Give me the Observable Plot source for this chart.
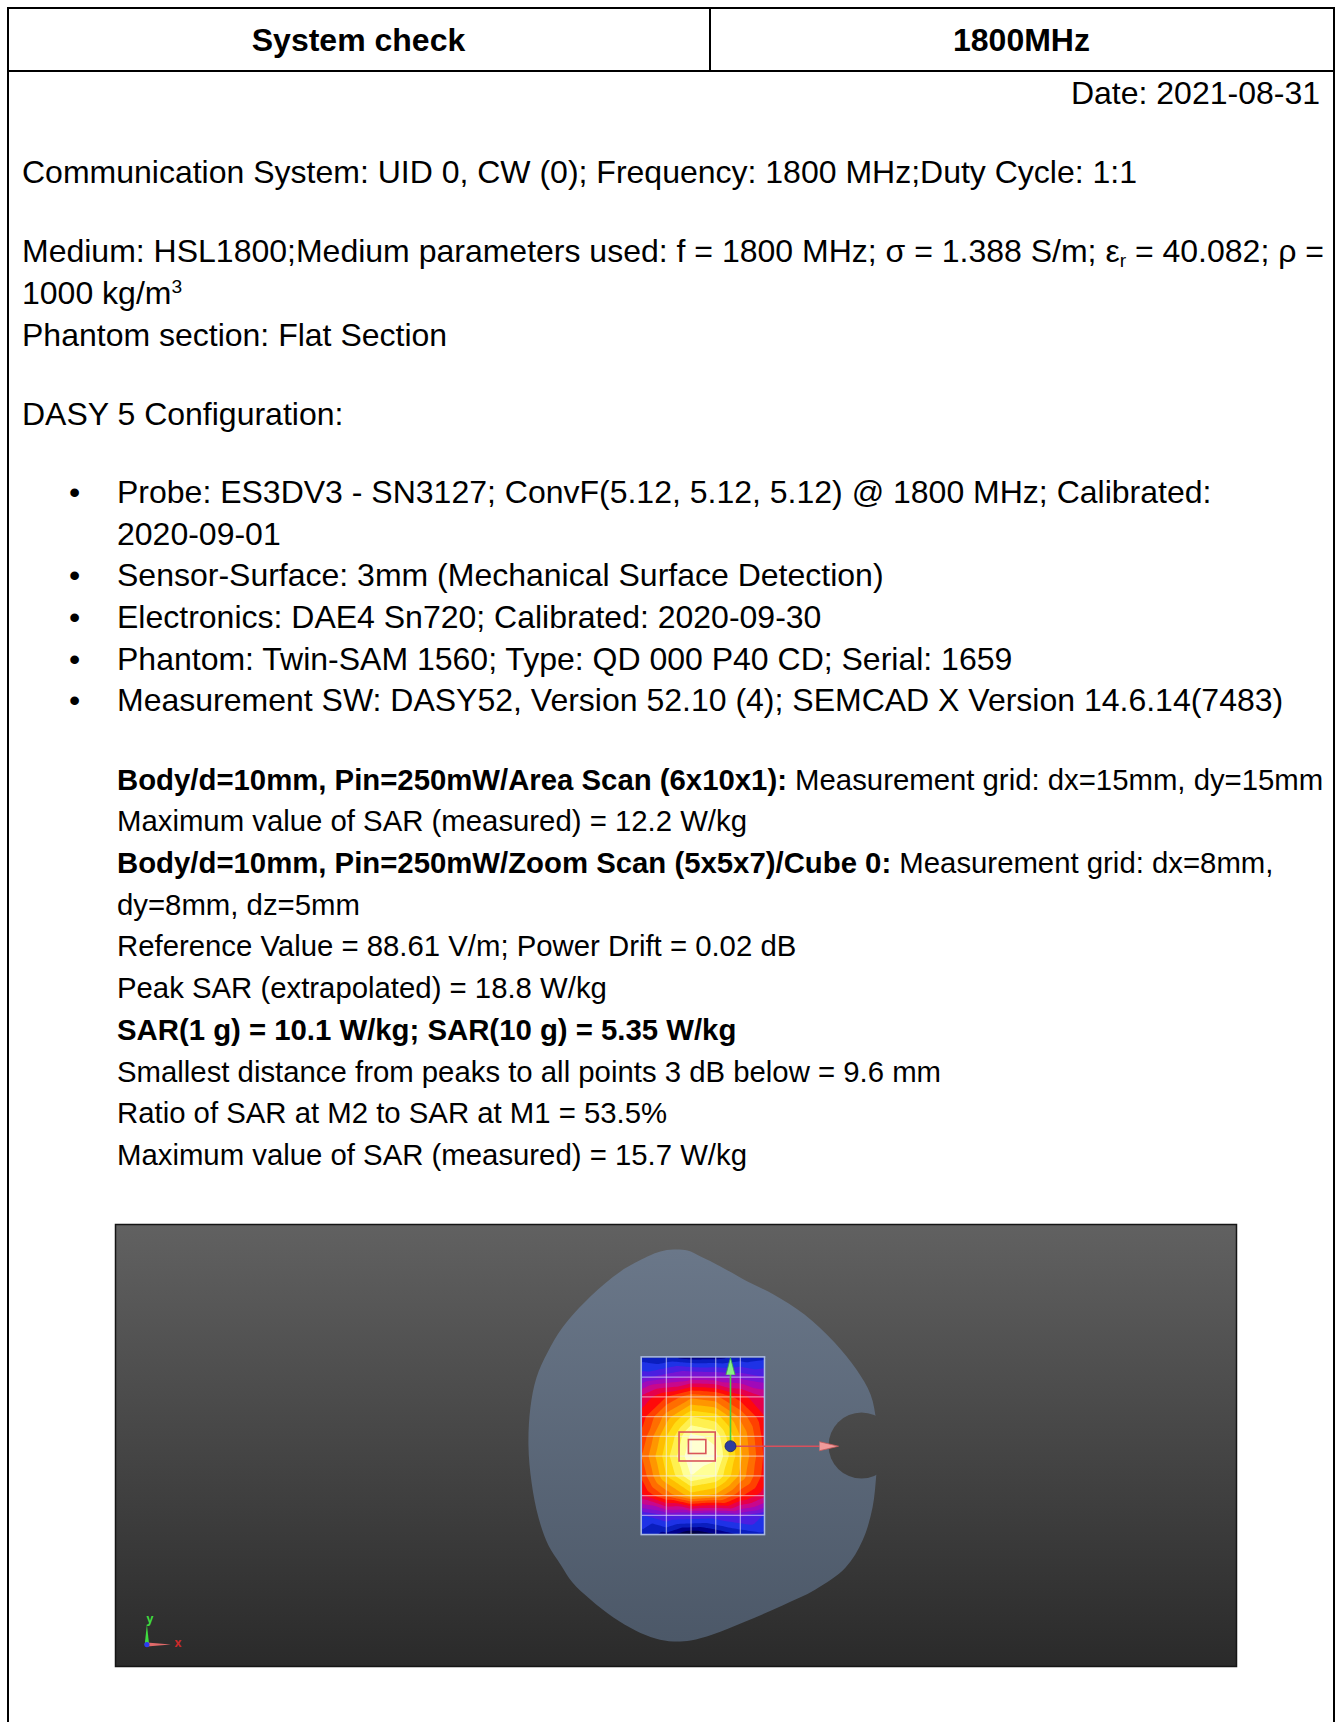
<!DOCTYPE html>
<html><head><meta charset="utf-8">
<script src="https://cdn.jsdelivr.net/npm/d3@7"></script>
<script src="https://cdn.jsdelivr.net/npm/@observablehq/plot@0.6"></script>
<style>
html,body{margin:0;padding:0;background:#fff;}
#page{position:relative;width:1336px;height:1722px;font-family:"Liberation Sans",Arial,Helvetica,sans-serif;color:#000;overflow:hidden;}
.ln{position:absolute;white-space:nowrap;line-height:42px;height:42px;}
.f12{font-size:32px;}
.f11{font-size:29.33px;}
.b{font-weight:bold;}
.hl{position:absolute;background:#000;}
.sb{font-size:0.6em;position:relative;top:0.22em;vertical-align:baseline;}
.sp{font-size:0.6em;position:relative;top:-0.6em;vertical-align:baseline;}
#img{position:absolute;left:115px;top:1224px;line-height:0;}
</style></head><body><div id="page"><div id="img"></div></div>
<script>
// ---------------- data ----------------
const headerCells = ["System check", "1800MHz"];
const dateText = "Date: 2021-08-31";
const introLines = [
  "Communication System: UID 0, CW (0); Frequency: 1800 MHz;Duty Cycle: 1:1",
  "Medium: HSL1800;Medium parameters used: f = 1800 MHz; σ = 1.388 S/m; ε<span class='sb'>r</span> = 40.082; ρ =",
  "1000 kg/m<span class='sp'>3</span>",
  "Phantom section: Flat Section",
  "DASY 5 Configuration:"
];
const bulletItems = [
  ["Probe: ES3DV3 - SN3127; ConvF(5.12, 5.12, 5.12) @ 1800 MHz; Calibrated:", "2020-09-01"],
  ["Sensor-Surface: 3mm (Mechanical Surface Detection)"],
  ["Electronics: DAE4 Sn720; Calibrated: 2020-09-30"],
  ["Phantom: Twin-SAM 1560; Type: QD 000 P40 CD; Serial: 1659"],
  ["Measurement SW: DASY52, Version 52.10 (4); SEMCAD X Version 14.6.14(7483)"]
];
const resultLines = [
  "<b>Body/d=10mm, Pin=250mW/Area Scan (6x10x1):</b> Measurement grid: dx=15mm, dy=15mm",
  "Maximum value of SAR (measured) = 12.2 W/kg",
  "<b>Body/d=10mm, Pin=250mW/Zoom Scan (5x5x7)/Cube 0:</b> Measurement grid: dx=8mm,",
  "dy=8mm, dz=5mm",
  "Reference Value = 88.61 V/m; Power Drift = 0.02 dB",
  "Peak SAR (extrapolated) = 18.8 W/kg",
  "<b>SAR(1 g) = 10.1 W/kg; SAR(10 g) = 5.35 W/kg</b>",
  "Smallest distance from peaks to all points 3 dB below = 9.6 mm",
  "Ratio of SAR at M2 to SAR at M1 = 53.5%",
  "Maximum value of SAR (measured) = 15.7 W/kg"
];

// area scan grid (mm, origin at the probe axes origin; y up)
const gridX = [-54, -39, -24, -9, 6, 21];
const gridY = [67.5, 52.5, 37.5, 22.5, 7.5, -7.5, -22.5, -37.5, -52.5, -67.5];
// SAR (W/kg) at grid points, rows top -> bottom
const sarRows = [
  [1.2, 1.0, 0.75, 0.8, 1.1, 1.3],
  [2.3, 2.8, 3.2, 3.1, 2.9, 2.5],
  [4.8, 6.2, 7.6, 7.2, 5.8, 4.5],
  [5.8, 8.2, 10.2, 9.8, 7.6, 5.4],
  [6.4, 9.4, 11.8, 11.4, 8.6, 5.8],
  [7.0, 9.9, 12.2, 11.8, 8.8, 6.0],
  [6.4, 9.4, 11.6, 11.0, 8.4, 5.8],
  [5.2, 7.2, 9.0, 8.4, 6.4, 4.8],
  [1.9, 2.5, 2.4, 2.3, 2.6, 1.9],
  [1.3, 0.8, 0.1, 0.5, 1.0, 1.3]
];
const bandThresholds = [0, 0.3, 0.6, 1.0, 1.45, 1.95, 2.5, 3.1, 3.8, 4.6, 5.4, 6.2, 7.0, 7.8, 8.6, 9.4, 10.2, 10.9, 11.6];
const bandColors = ["#000000", "#00004b", "#00008c", "#0a1ebe", "#1e32e6", "#4b1ee1", "#7814d2", "#a00ab9", "#c8088c",
  "#e6004b", "#ff0a0a", "#ff4100", "#ff6e00", "#ff9600", "#ffbe00", "#ffdc14", "#fff050", "#ffff96", "#ffffd2"];

// flat phantom outline (mm), clockwise from the top
const phantomX = [-34.7, -26.2, -18.2, -6.1, 10.3, 26.2, 45.0, 63.3, 76.6, 85.2, 88.8, 90.0, 88.8, 86.4, 80.3, 70.0, 51.7, 31.6, 9.1, -10.9, -24.3, -34.7, -45.6, -57.8, -71.2, -85.2, -96.1, -103.4, -110.7, -116.8, -121.0, -122.9, -121.7, -118.0, -111.3, -102.2, -85.2, -66.9, -50.5, -42.6];
const phantomY = [149.5, 148.7, 144.1, 136.6, 125.2, 115.3, 100.1, 78.8, 58.3, 39.3, 18.0, 0.5, -20.0, -46.6, -71.7, -92.2, -108.9, -121.0, -133.2, -143.1, -147.6, -148.4, -146.1, -140.0, -130.2, -116.5, -103.6, -89.9, -75.5, -54.2, -27.6, 0.5, 29.4, 52.2, 71.2, 90.2, 113.8, 132.8, 144.1, 148.0];
const notchCenter = {x: 79.7, y: 0.5};
// zoom-scan cube markers (centre and half side, mm)
const cubeCenter = {x: -20, y: -0.6};
const cubeHalfSides = [11, 5.3];
// probe axes: origin and tips (mm)
const axisOrigin = {x: 0, y: 0};
const yAxisTip = 67.3, yAxisBase = 54.5;
const xAxisTip = 65.7, xAxisBase = 54.1;
const cornerOrigin = {x: -355, y: -150.7};

// ---------------- text ----------------
const page = document.getElementById("page");
function addLine(html, opts) {
  const d = document.createElement("div");
  d.className = "ln " + (opts.cls || "f12");
  d.innerHTML = html;
  d.style.top = (opts.cy - 21) + "px";
  if (opts.left != null) d.style.left = opts.left + "px";
  if (opts.right != null) d.style.right = opts.right + "px";
  if (opts.width != null) { d.style.width = opts.width + "px"; d.style.textAlign = "center"; }
  page.appendChild(d);
}
function addRule(l, t, w, h) {
  const d = document.createElement("div");
  d.className = "hl";
  Object.assign(d.style, {left: l + "px", top: t + "px", width: w + "px", height: h + "px"});
  page.appendChild(d);
}
addRule(7, 7, 1328, 2);
addRule(7, 70, 1328, 2);
addRule(709, 7, 1.5, 64);
addRule(7, 7, 2, 1715);
addRule(1333, 7, 2, 1715);

addLine(headerCells[0], {cy: 39.5, left: 8, width: 701, cls: "f12 b"});
addLine(headerCells[1], {cy: 39.5, left: 710, width: 623, cls: "f12 b"});
addLine(dateText, {cy: 93.3, right: 16});
const introY = [172.4, 251.4, 293.2, 334.9, 414];
introLines.forEach((t, i) => addLine(t, {cy: introY[i], left: 22}));
let by = 491.9;
bulletItems.forEach(item => {
  addLine("•", {cy: by, left: 69});
  item.forEach(t => { addLine(t, {cy: by, left: 117}); by += 41.7; });
});
let ry = 779.6;
resultLines.forEach(t => { addLine(t, {cy: ry, left: 117, cls: "f11"}); ry += 41.7; });

// ---------------- picture ----------------
const W = 1121, H = 442;
const samples = [];
sarRows.forEach((row, j) => row.forEach((v, i) => samples.push({x: gridX[i], y: gridY[j], v})));
const gx1 = gridX[0], gx2 = gridX[gridX.length - 1], gy1 = gridY[gridY.length - 1], gy2 = gridY[0];
const phantom = phantomX.map((x, i) => ({x, y: phantomY[i]}));
const cubes = cubeHalfSides.map(h => ({x1: cubeCenter.x - h, x2: cubeCenter.x + h, y1: cubeCenter.y - h, y2: cubeCenter.y + h}));

const chart = Plot.plot({
  width: W, height: H, margin: 0,
  x: {domain: [-374.1, 307.8], axis: null},
  y: {domain: [-167.4, 168.5], axis: null},
  color: {type: "ordinal", domain: bandThresholds, range: bandColors},
  style: {background: "none", overflow: "visible"},
  marks: [
    Plot.frame({fill: "url(#bgGrad)", stroke: "none"}),
    Plot.line(phantom, {x: "x", y: "y", curve: "catmull-rom-closed", fill: "url(#phGrad)", stroke: "none"}),
    Plot.dot([notchCenter], {x: "x", y: "y", r: 33, fill: "url(#bgGrad)", stroke: "none"}),
    Plot.rect([0], {x1: gx1, x2: gx2, y1: gy1, y2: gy2, fill: bandColors[0]}),
    Plot.contour(samples, {x: "x", y: "y", fill: "v", interpolate: "barycentric", thresholds: bandThresholds,
      x1: gx1, x2: gx2, y1: gy1, y2: gy2, stroke: "none"}),
    Plot.ruleX(gridX.slice(1, -1), {y1: gy1, y2: gy2, stroke: "#f0f0ff", strokeOpacity: 0.55, strokeWidth: 1.3}),
    Plot.ruleY(gridY.slice(1, -1), {x1: gx1, x2: gx2, stroke: "#f0f0ff", strokeOpacity: 0.55, strokeWidth: 1.3}),
    Plot.rect([0], {x1: gx1, x2: gx2, y1: gy1, y2: gy2, fill: "none", stroke: "#a9b9e2", strokeWidth: 1.6}),
    Plot.rect(cubes, {x1: "x1", x2: "x2", y1: "y1", y2: "y2", fill: "none", stroke: "#d9545a", strokeWidth: 1.6}),
    // probe axes
    Plot.link([axisOrigin], {x1: "x", y1: "y", x2: "x", y2: () => yAxisBase, stroke: "#46d046", strokeWidth: 1.6}),
    Plot.vector([{x: axisOrigin.x, y: yAxisTip}], {x: "x", y: "y", length: 17, rotate: 0, shape: "spike", anchor: "end", r: 4.5, fill: "#86f086", stroke: "#3fae3f", strokeWidth: 0.8}),
    Plot.link([axisOrigin], {x1: "x", y1: "y", x2: () => xAxisBase, y2: "y", stroke: "#d8505c", strokeWidth: 1.6}),
    Plot.vector([{x: xAxisTip, y: axisOrigin.y}], {x: "x", y: "y", length: 19, rotate: 90, shape: "spike", anchor: "end", r: 4.5, fill: "#f09a9a", stroke: "#c85a5a", strokeWidth: 0.8}),
    Plot.dot([axisOrigin], {x: "x", y: "y", r: 5.5, fill: "#2d3c9e", stroke: "#1b2468", strokeWidth: 0.8}),
    // corner axes indicator
    Plot.vector([cornerOrigin], {x: "x", y: "y", length: 20, rotate: 0, shape: "spike", anchor: "start", r: 2.2, fill: "#3fdc3f", stroke: "none"}),
    Plot.vector([cornerOrigin], {x: "x", y: "y", length: 24, rotate: 90, shape: "spike", anchor: "start", r: 2, fill: "#e06a6a", stroke: "none"}),
    Plot.dot([cornerOrigin], {x: "x", y: "y", r: 2.6, fill: "#2a3cf0", stroke: "none"}),
    Plot.text([cornerOrigin], {x: "x", y: "y", text: () => "y", dx: 3, dy: -25, fill: "#3fdc3f", fontSize: 12, fontWeight: "bold"}),
    Plot.text([cornerOrigin], {x: "x", y: "y", text: () => "x", dx: 31, dy: -1, fill: "#c82a2a", fontSize: 12, fontWeight: "bold"}),
    Plot.frame({stroke: "#151515", strokeWidth: 1.5})
  ]
});
const svg = d3.select(chart);
const defs = svg.insert("defs", ":first-child");
function grad(id, c0, c1) {
  const g = defs.append("linearGradient").attr("id", id).attr("gradientUnits", "userSpaceOnUse")
    .attr("x1", 0).attr("y1", 0).attr("x2", 0).attr("y2", H);
  g.append("stop").attr("offset", 0).attr("stop-color", c0);
  g.append("stop").attr("offset", 1).attr("stop-color", c1);
}
grad("bgGrad", "#616161", "#2a2a2a");
grad("phGrad", "#6c798b", "#4a5666");
document.getElementById("img").appendChild(chart);
</script>
</body></html>
